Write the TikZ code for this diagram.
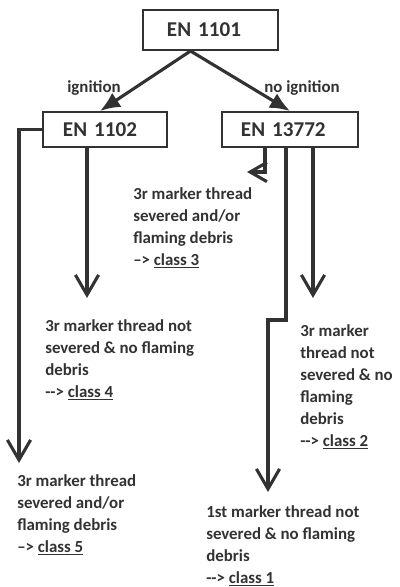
\documentclass[tikz,border=0pt]{standalone}
\usepackage{fontspec}
\setmainfont{Carlito}
\usetikzlibrary{arrows.meta,calc}
\definecolor{ink}{RGB}{50,50,50}

\begin{document}
\begin{tikzpicture}[x=0.025cm,y=-0.025cm,
  box/.style={draw=ink,line width=1.4pt,text=ink,font=\bfseries\fontsize{15}{18}\selectfont,inner xsep=0.2cm,inner ysep=0pt,minimum height=0.875cm,align=left},
  txt/.style={text=ink,font=\bfseries\fontsize{12}{15.65}\selectfont,align=left,anchor=north west,inner sep=0pt},
  lbl/.style={text=ink,font=\bfseries\fontsize{12}{14}\selectfont,inner sep=0pt},
  fork/.style={draw=ink,line width=2.2pt,-{Latex[length=0.5cm,width=0.42cm]}},
  drop/.style={draw=ink,line width=2.2pt,-{Straight Barb[length=0.5cm,width=0.58cm]}},
  dropsmall/.style={draw=ink,line width=2.2pt,-{Straight Barb[length=0.42cm,width=0.48cm]}}]
 \useasboundingbox (0,0) rectangle (400,587);
 % boxes
 \node[box,text width=2.975cm,minimum height=1cm] (en1101) at (210.5,30) {\hspace{0.4cm}EN 1101};
 \node[box,text width=2.7cm] (en1102) at (105,129.5) {\hspace{0.3cm}EN 1102};
 \node[box,text width=3.0cm] (en13772) at (290,129.5) {\hspace{0.275cm}EN 13772};
 % ends of the branches
 \coordinate (c5tip) at (19,463);
 \coordinate (c4tip) at (87,298);
 \coordinate (c3bend) at (265,172);
 \coordinate (c3tip) at (247,172);
 \coordinate (c1step) at (286,320);
 \coordinate (c1tip) at (268,492);
 \coordinate (c2tip) at (313,298);
 % first test
 \draw[fork] ($(en1101.south)+(-20,0)$) -- ($(en1102.north)+(-5,0)$);
 \draw[fork] ($(en1101.south)+(-20,0)$) -- (en13772.north);
 \node[lbl] (ign) at (94,88) {ignition};
 \node[lbl] (noign) at (302,88) {no ignition};
 % second tests
 \draw[drop] (en1102.west) -| (c5tip);
 \draw[drop] (en1102.south -| c4tip) -- (c4tip);
 \draw[dropsmall] (en13772.south -| c3bend) -- (c3bend) -- (c3tip);
 \draw[drop] (en13772.south -| c1step) -- (c1step) -| (c1tip);
 \draw[drop] (en13772.south -| c2tip) -- (c2tip);
 % classes
 \node[txt] (class3) at (133,187) {3r marker thread\\severed and/or\\flaming debris\\--{}> \underline{class 3}};
 \node[txt] (class4) at (45,319) {3r marker thread not\\severed \& no flaming\\debris\\-{}-{}> \underline{class 4}};
 \node[txt] (class2) at (300,324) {3r marker\\thread not\\severed \& no\\flaming\\debris\\-{}-{}> \underline{class 2}};
 \node[txt] (class5) at (17,474) {3r marker thread\\severed and/or\\flaming debris\\--{}> \underline{class 5}};
 \node[txt] (class1) at (206,505) {1st marker thread not\\severed \& no flaming\\debris\\-{}-{}> \underline{class 1}};
\end{tikzpicture}
\end{document}
